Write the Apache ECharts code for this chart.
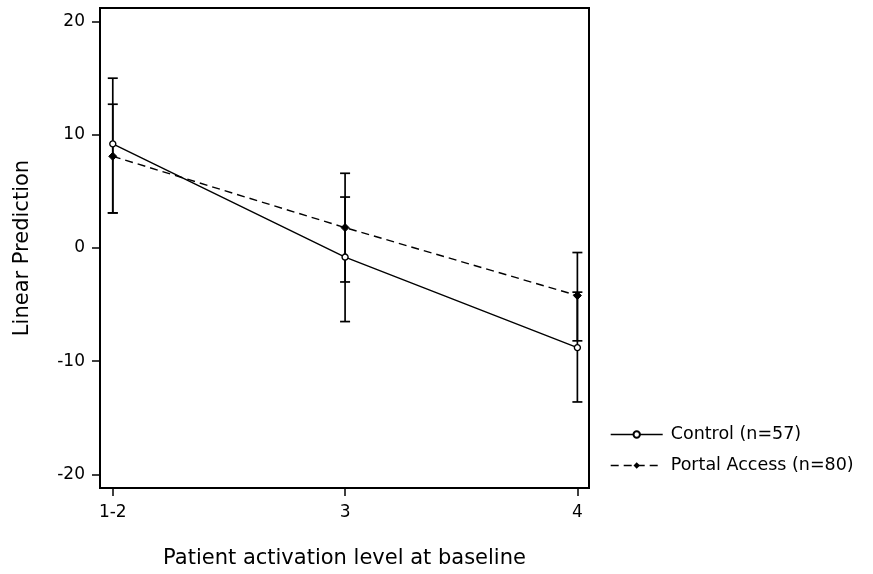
<!DOCTYPE html>
<html>
<head>
<meta charset="utf-8">
<script src="https://cdn.jsdelivr.net/npm/echarts@6/dist/echarts.min.js"></script>
<style>html,body{margin:0;padding:0;background:#fff}#c{width:873px;height:574px}</style>
</head>
<body>
<div id="c"></div>
<script>
var categories = ['1-2', '3', '4'];
var xPositions = [1, 2, 3];
var yTicks = [-20, -10, 0, 10, 20];
var controlName = 'Control (n=57)';
var portalName = 'Portal Access (n=80)';
var controlMean = [9.2, -0.8, -8.8];
var controlLow = [3.1, -6.5, -13.6];
var controlHigh = [15.0, 4.5, -3.9];
var portalMean = [8.1, 1.8, -4.2];
var portalLow = [3.1, -3.0, -8.2];
var portalHigh = [12.7, 6.6, -0.4];

var FONT = '"DejaVu Sans", Verdana, sans-serif';
var TXT = '#000';
function pts(means) { return xPositions.map(function (x, i) { return [x, means[i]]; }); }
function errData(low, high) { return xPositions.map(function (x, i) { return [x, low[i], high[i]]; }); }
function errRender(params, api) {
  var x = api.value(0);
  var lo = api.coord([x, api.value(1)]);
  var hi = api.coord([x, api.value(2)]);
  var w = 5;
  var st = { stroke: '#000', lineWidth: 1.7 };
  return { type: 'group', children: [
    { type: 'line', shape: { x1: lo[0], y1: lo[1], x2: hi[0], y2: hi[1] }, style: st },
    { type: 'line', shape: { x1: lo[0] - w, y1: lo[1], x2: lo[0] + w, y2: lo[1] }, style: st },
    { type: 'line', shape: { x1: hi[0] - w, y1: hi[1], x2: hi[0] + w, y2: hi[1] }, style: st }
  ]};
}

var chart = echarts.init(document.getElementById('c'), null, { renderer: 'canvas' });
chart.setOption({
  animation: false,
  backgroundColor: '#fff',
  textStyle: { fontFamily: FONT },
  grid: { left: 100, top: 8, right: 284, bottom: 86, show: true, borderColor: '#000', borderWidth: 2, backgroundColor: 'transparent' },
  legend: {
    left: 605, top: 420, orient: 'vertical', itemWidth: 52, itemHeight: 8, itemGap: 12,
    textStyle: { fontFamily: FONT, fontSize: 17.5, color: TXT, lineHeight: 19, padding: [0, 0, 0, 3] },
    lineStyle: { width: 1.4 },
    data: [controlName, portalName]
  },
  xAxis: {
    type: 'value', min: 0.945, max: 3.05,
    name: 'Patient activation level at baseline', nameLocation: 'middle', nameGap: 60,
    nameTextStyle: { fontFamily: FONT, fontSize: 21, color: TXT },
    axisLine: { show: true, onZero: false, lineStyle: { color: '#000', width: 2 } },
    axisTick: { show: true, length: 8, lineStyle: { color: '#000', width: 1.5 }, customValues: xPositions },
    axisLabel: { color: TXT, fontSize: 17, margin: 16, customValues: xPositions,
      formatter: function (v) { return categories[xPositions.indexOf(v)]; } },
    splitLine: { show: false }
  },
  yAxis: {
    type: 'value', min: -21.2, max: 21.2,
    name: 'Linear Prediction', nameLocation: 'middle', nameGap: 67,
    nameTextStyle: { fontFamily: FONT, fontSize: 21, color: TXT },
    axisLine: { show: true, onZero: false, lineStyle: { color: '#000', width: 2 } },
    axisTick: { show: true, length: 8, lineStyle: { color: '#000', width: 1.5 }, customValues: yTicks },
    axisLabel: { color: TXT, fontSize: 17, margin: 15, customValues: yTicks },
    splitLine: { show: false }
  },
  series: [
    { type: 'custom', name: 'errC', renderItem: errRender, data: errData(controlLow, controlHigh), silent: true, z: 1 },
    { type: 'custom', name: 'errP', renderItem: errRender, data: errData(portalLow, portalHigh), silent: true, z: 1 },
    { type: 'line', name: controlName, data: pts(controlMean), symbol: 'circle', symbolSize: 6,
      lineStyle: { color: '#000', width: 1.4 }, itemStyle: { color: '#fff', borderColor: '#000', borderWidth: 1.4 }, z: 3 },
    { type: 'line', name: portalName, data: pts(portalMean), symbol: 'diamond', symbolSize: 8,
      lineStyle: { color: '#000', width: 1.4, type: [8, 5] }, itemStyle: { color: '#000', borderColor: '#000' }, z: 3 }
  ]
});
</script>
</body>
</html>
